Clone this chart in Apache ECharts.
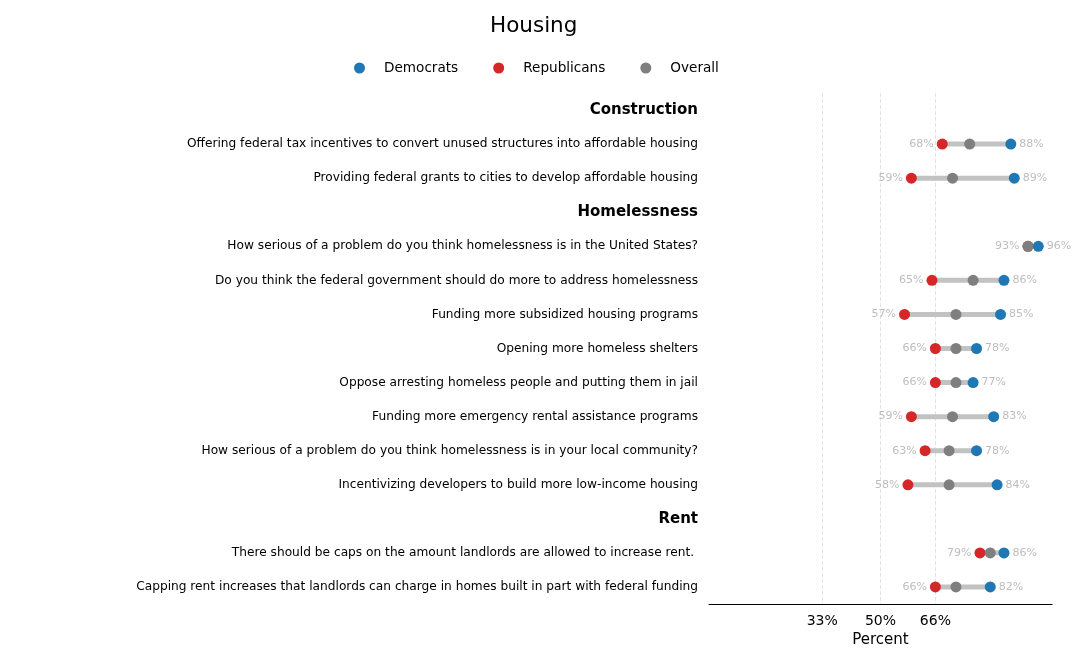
<!DOCTYPE html>
<html lang="en">

<head>
	<meta charset="UTF-8">
	<title>Housing</title>
	<script src="https://cdn.jsdelivr.net/npm/echarts@6.0.0/dist/echarts.min.js"></script>
	<style>
		body { margin: 0; background: #fff; }
	</style>
</head>

<body>
	<div id="main" style="width: 1080px;height:656px;"></div>

	<script>
		// rows top to bottom, section headers included
		var categories = [
			'Construction',
			'Offering federal tax incentives to convert unused structures into affordable housing',
			'Providing federal grants to cities to develop affordable housing',
			'Homelessness',
			'How serious of a problem do you think homelessness is in the United States?',
			'Do you think the federal government should do more to address homelessness',
			'Funding more subsidized housing programs',
			'Opening more homeless shelters',
			'Oppose arresting homeless people and putting them in jail',
			'Funding more emergency rental assistance programs',
			'How serious of a problem do you think homelessness is in your local community?',
			'Incentivizing developers to build more low-income housing',
			'Rent',
			'There should be caps on the amount landlords are allowed to increase rent. ',
			'Capping rent increases that landlords can charge in homes built in part with federal funding'
		];
		var headers = ['Construction', 'Homelessness', 'Rent'];

		var democrats   = [null, 88, 89, null, 96, 86, 85, 78, 77, 83, 78, 84, null, 86, 82];
		var republicans = [null, 68, 59, null, 93, 65, 57, 66, 66, 59, 63, 58, null, 79, 66];
		var overall     = [null, 76, 71, null, 93, 77, 72, 72, 72, 71, 70, 70, null, 82, 72];

		var tickValues = [33, 50, 66];

		var font = 'DejaVu Sans';
		var chart = echarts.init(document.getElementById('main'));

		function points(arr) {
			var out = [];
			arr.forEach(function (v, i) {
				if (v !== null) out.push([v, i]);
			});
			return out;
		}

		var ranges = [];
		categories.forEach(function (c, i) {
			if (democrats[i] === null) return;
			var vals = [democrats[i], republicans[i], overall[i]];
			ranges.push([i, Math.min.apply(null, vals), Math.max.apply(null, vals)]);
		});

		var option = {
			animation: false,
			textStyle: { fontFamily: font },
			title: {
				text: 'Housing',
				left: 485,
				top: 10,
				textStyle: { fontFamily: font, fontSize: 21.5, fontWeight: 'normal', color: '#000' }
			},
			legend: {
				data: ['Democrats', 'Republicans', 'Overall'],
				top: 56,
				left: 349,
				icon: 'circle',
				itemWidth: 11,
				itemHeight: 11,
				itemGap: 35,
				textStyle: { fontFamily: font, fontSize: 13.6, color: '#000', padding: [0, 0, 0, 14] }
			},
			grid: { left: 709, right: 28, top: 93, bottom: 52 },
			xAxis: {
				type: 'value',
				min: 0,
				max: 100,
				name: 'Percent',
				nameLocation: 'middle',
				nameGap: 28,
				nameTextStyle: { fontFamily: font, fontSize: 15, color: '#000' },
				axisLine: { show: true, lineStyle: { color: '#000', width: 1.2 } },
				axisTick: { show: false },
				splitLine: { show: false },
				axisLabel: {
					customValues: tickValues,
					formatter: '{value}%',
					fontFamily: font,
					fontSize: 14,
					color: '#000',
					margin: 10
				}
			},
			yAxis: {
				type: 'category',
				inverse: true,
				data: categories,
				axisLine: { show: false },
				axisTick: { show: false },
				splitLine: { show: false },
				axisLabel: {
					margin: 11,
					fontFamily: font,
					fontSize: 12.2,
					color: '#000',
					formatter: function (v) {
						return headers.indexOf(v) >= 0 ? '{h|' + v + '}' : v;
					},
					rich: {
						h: { fontFamily: font, fontSize: 15, fontWeight: 'bold', color: '#000' }
					}
				}
			},
			series: [
				{
					// vertical dashed guides at the tick values
					name: 'guides',
					type: 'line',
					z: 0,
					data: [],
					markLine: {
						silent: true,
						z: 0,
						symbol: 'none',
						label: { show: false },
						lineStyle: { type: 'dashed', color: '#e2e2e2', width: 1 },
						data: tickValues.map(function (t) { return { xAxis: t }; })
					}
				},
				{
					name: 'range',
					type: 'custom',
					z: 1,
					data: ranges,
					renderItem: function (params, api) {
						var a = api.coord([api.value(1), api.value(0)]);
						var b = api.coord([api.value(2), api.value(0)]);
						return {
							type: 'line',
							shape: { x1: a[0], y1: a[1], x2: b[0], y2: b[1] },
							style: { stroke: '#c2c2c2', lineWidth: 5 }
						};
					}
				},
				{
					name: 'Republicans',
					type: 'scatter',
					z: 5,
					symbolSize: 11,
					itemStyle: { color: '#d62728', opacity: 1 },
					data: points(republicans),
					label: {
						show: true,
						position: 'left',
						distance: 3,
						fontFamily: font,
						fontSize: 11,
						color: '#bdbdbd',
						formatter: function (p) { return p.value[0] + '%'; }
					}
				},
				{
					name: 'Overall',
					type: 'scatter',
					z: 6,
					symbolSize: 11,
					itemStyle: { color: '#7f7f7f', opacity: 1 },
					data: points(overall)
				},
				{
					name: 'Democrats',
					type: 'scatter',
					z: 7,
					symbolSize: 11,
					itemStyle: { color: '#1f77b4', opacity: 1 },
					data: points(democrats),
					label: {
						show: true,
						position: 'right',
						distance: 3,
						fontFamily: font,
						fontSize: 11,
						color: '#bdbdbd',
						formatter: function (p) { return p.value[0] + '%'; }
					}
				}
			]
		};

		chart.setOption(option);
	</script>
</body>

</html>
